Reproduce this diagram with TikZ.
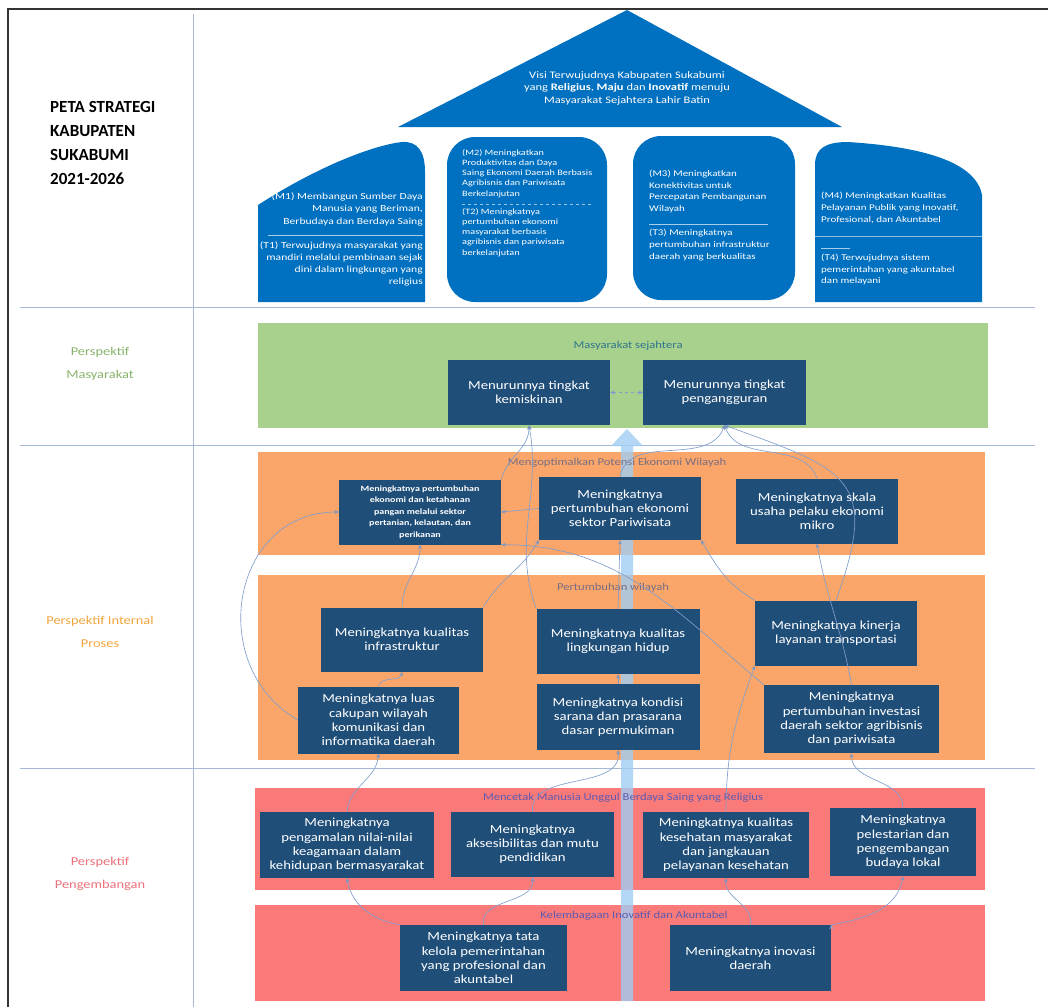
\documentclass[tikz,border=0pt]{standalone}
\usepackage{fontspec}
\setmainfont{Carlito}
\newfontfamily\boxfont[FakeStretch=1.2]{Carlito}
\newfontfamily\pillarfont[FakeStretch=1.25]{Carlito}
\usepackage{tikz}
\usetikzlibrary{arrows.meta}

\definecolor{roofblue}{RGB}{0,112,192}
\definecolor{boxblue}{RGB}{31,78,121}
\definecolor{grpgreen}{RGB}{169,209,142}
\definecolor{grporange}{RGB}{250,166,106}
\definecolor{grppink}{RGB}{250,122,122}
\definecolor{linkblue}{RGB}{128,158,205}
\definecolor{bigarrow}{RGB}{160,205,242}
\definecolor{sepline}{RGB}{165,185,215}
\definecolor{lblgreen}{RGB}{46,117,140}
\definecolor{lblorange}{RGB}{120,110,130}
\definecolor{lblpink}{RGB}{95,90,175}
\definecolor{perspgreen}{RGB}{135,178,105}
\definecolor{persporange}{RGB}{242,165,60}
\definecolor{persppink}{RGB}{236,112,122}

\begin{document}
\begin{tikzpicture}[x=1pt,y=1pt]
	\tikzset{goal/.style 2 args={fill=boxblue,text=white,align=center,inner sep=1pt,
		minimum width=#1pt,minimum height=#2pt,font=\boxfont\fontsize{12.3}{14.2}\selectfont}}
	\tikzstyle{link}=[draw=linkblue,line width=0.65pt,-{Stealth[length=4.5pt,width=4pt]}]
	\tikzstyle{grouplabel}=[inner sep=0pt,font=\boxfont\fontsize{10.5}{12}\selectfont]
	\tikzstyle{pillartext}=[text=white,inner sep=0pt]
	\tikzstyle{persp}=[align=center,inner sep=0pt,font=\boxfont\fontsize{12}{23}\selectfont]

	\useasboundingbox (0,0) rectangle (1048,-1007);

	%% frame and grid
	\draw[line width=2pt,black!80] (8,-1007) -- (8,-9) -- (1048,-9);
	\draw[sepline,line width=0.8pt] (193,-14) -- (193,-1007);
	\foreach \y in {307,445,768}
		\draw[sepline,line width=0.8pt] (20,-\y) -- (1035,-\y);

	%% title and perspectives
	\node[anchor=north west,align=left,inner sep=0pt,font=\bfseries\fontsize{17}{24}\selectfont] (title) at (50,-101)
		{PETA STRATEGI\\KABUPATEN\\SUKABUMI\\2021-2026};
	\node[persp,text=perspgreen] (pmasy) at (100,-364) {Perspektif\\Masyarakat};
	\node[persp,text=persporange] (pproses) at (100,-632) {Perspektif Internal\\Proses};
	\node[persp,text=persppink] (pkembang) at (100,-874) {Perspektif\\Pengembangan};

	%% roof
	\fill[roofblue] (627,-10) -- (842,-127) -- (398,-127) -- cycle;
	\node[pillartext,align=center,font=\pillarfont\fontsize{10}{12.5}\selectfont] (visi) at (627,-88)
		{Visi Terwujudnya Kabupaten Sukabumi\\yang \textbf{Religius}, \textbf{Maju} dan \textbf{Inovatif} menuju\\Masyarakat Sejahtera Lahir Batin};

	%% pillars
	\fill[roofblue] (258,-302) -- (258,-205) .. controls (320,-165) and (375,-145) .. (402,-142)
		.. controls (418,-141) and (425,-152) .. (425,-172) -- (425,-302) -- cycle;
	\fill[roofblue,rounded corners=28pt] (447,-137) rectangle (607,-302);
	\fill[roofblue,rounded corners=28pt] (633,-136) rectangle (795,-300);
	\fill[roofblue] (815,-302) -- (815,-165) .. controls (815,-148) and (826,-142) .. (848,-142)
		.. controls (910,-146) and (975,-158) .. (982,-195) -- (982,-302) -- cycle;

	\node[pillartext,anchor=north east,align=right,font=\pillarfont\fontsize{9.3}{12.5}\selectfont] (m1) at (423,-192)
		{(M1) Membangun Sumber Daya\\Manusia yang Beriman,\\Berbudaya dan Berdaya Saing};
	\draw[white!65!roofblue,line width=0.6pt] (268,-235) -- (423,-235);
	\node[pillartext,anchor=north east,align=right,font=\pillarfont\fontsize{9.3}{12}\selectfont] (t1) at (423,-241)
		{(T1) Terwujudnya masyarakat yang\\mandiri melalui pembinaan sejak\\dini dalam lingkungan yang\\religius};

	\node[pillartext,anchor=north west,align=left,font=\pillarfont\fontsize{8.2}{10.2}\selectfont] (m2) at (462,-149)
		{(M2) Meningkatkan\\Produktivitas dan Daya\\Saing Ekonomi Daerah Berbasis\\Agribisnis dan Pariwisata\\Berkelanjutan};
	\draw[white!60!roofblue,dashed,line width=0.6pt] (462,-204) -- (592,-204);
	\node[pillartext,anchor=north west,align=left,font=\pillarfont\fontsize{8.2}{10.2}\selectfont] (t2) at (462,-208)
		{(T2) Meningkatnya\\pertumbuhan ekonomi\\masyarakat berbasis\\agribisnis dan pariwisata\\berkelanjutan};

	\node[pillartext,anchor=north west,align=left,font=\pillarfont\fontsize{8.8}{11.5}\selectfont] (m3) at (649,-170)
		{(M3) Meningkatkan\\Konektivitas untuk\\Percepatan Pembangunan\\Wilayah};
	\draw[white!65!roofblue,line width=0.6pt] (649,-224) -- (768,-224);
	\node[pillartext,anchor=north west,align=left,font=\pillarfont\fontsize{8.8}{12}\selectfont] (t3) at (649,-229)
		{(T3) Meningkatnya\\pertumbuhan infrastruktur\\daerah yang berkualitas};

	\node[pillartext,anchor=north west,align=left,font=\pillarfont\fontsize{8.8}{12}\selectfont] (m4) at (821,-192)
		{(M4) Meningkatkan Kualitas\\Pelayanan Publik yang Inovatif,\\Profesional, dan Akuntabel};
	\draw[white!55!roofblue,line width=0.8pt] (815,-236) -- (982,-236);
	\draw[white!65!roofblue,line width=0.6pt] (821,-248) -- (850,-248);
	\node[pillartext,anchor=north west,align=left,font=\pillarfont\fontsize{8.8}{11.5}\selectfont] (t4) at (821,-254)
		{(T4) Terwujudnya sistem\\pemerintahan yang akuntabel\\dan melayani};

	%% group bands
	\fill[grpgreen] (258,-323) rectangle (988,-428);
	\fill[grporange] (258,-452) rectangle (985,-555);
	\fill[grporange] (258,-575) rectangle (985,-760);
	\fill[grppink] (255,-788) rectangle (985,-890);
	\fill[grppink] (255,-905) rectangle (985,-1001);

	%% big arrow up the middle, behind the goals
	\fill[bigarrow,opacity=0.8] (621,-1001) -- (621,-446) -- (611,-446) -- (627,-429)
		-- (643,-446) -- (633,-446) -- (633,-1001) -- cycle;

	\node[grouplabel,text=lblgreen] (gmasy) at (628,-346) {Masyarakat sejahtera};
	\node[grouplabel,text=lblorange] (gekonomi) at (617,-463) {Mengoptimalkan Potensi Ekonomi Wilayah};
	\node[grouplabel,text=lblorange] (gwilayah) at (613,-588) {Pertumbuhan wilayah};
	\node[grouplabel,text=lblpink] (gmanusia) at (623,-798) {Mencetak Manusia Unggul Berdaya Saing yang Religius};
	\node[grouplabel,text=lblpink] (glembaga) at (634,-916) {Kelembagaan Inovatif dan Akuntabel};

	%% goals
	\node[goal={162}{65}] (kemiskinan) at (529,-392.5) {Menurunnya tingkat\\kemiskinan};
	\node[goal={163}{65}] (pengangguran) at (724.5,-392.5) {Menurunnya tingkat\\pengangguran};

	\node[goal={162}{65},font=\pillarfont\bfseries\fontsize{8}{11.5}\selectfont] (pangan) at (420,-512)
		{Meningkatnya pertumbuhan\\ekonomi dan ketahanan\\pangan melalui sektor\\pertanian, kelautan, dan\\perikanan};
	\node[goal={162}{63}] (pariwisata) at (620,-508.5) {Meningkatnya\\pertumbuhan ekonomi\\sektor Pariwisata};
	\node[goal={162}{65}] (mikro) at (817,-511) {Meningkatnya skala\\usaha pelaku ekonomi\\mikro};

	\node[goal={162}{64}] (infra) at (402,-639.5) {Meningkatnya kualitas\\infrastruktur};
	\node[goal={163}{65}] (lingkungan) at (618,-641.5) {Meningkatnya kualitas\\lingkungan hidup};
	\node[goal={162}{65}] (transportasi) at (836,-633) {Meningkatnya kinerja\\layanan transportasi};
	\node[goal={161}{67}] (kominfo) at (378.5,-720) {Meningkatnya luas\\cakupan wilayah\\komunikasi dan\\informatika daerah};
	\node[goal={163}{66}] (permukiman) at (618,-717) {Meningkatnya kondisi\\sarana dan prasarana\\dasar permukiman};
	\node[goal={175}{68}] (investasi) at (851.5,-719) {Meningkatnya\\pertumbuhan investasi\\daerah sektor agribisnis\\dan pariwisata};

	\node[goal={174}{66}] (agama) at (347,-845) {Meningkatnya\\pengamalan nilai-nilai\\keagamaan dalam\\kehidupan bermasyarakat};
	\node[goal={163}{65}] (pendidikan) at (532.5,-844.5) {Meningkatnya\\aksesibilitas dan mutu\\pendidikan};
	\node[goal={166}{66}] (kesehatan) at (726,-845) {Meningkatnya kualitas\\kesehatan masyarakat\\dan jangkauan\\pelayanan kesehatan};
	\node[goal={146}{68}] (budaya) at (903,-842) {Meningkatnya\\pelestarian dan\\pengembangan\\budaya lokal};

	\node[goal={167}{66}] (tatakelola) at (483.5,-958) {Meningkatnya tata\\kelola pemerintahan\\yang profesional dan\\akuntabel};
	\node[goal={161}{66}] (inovasi) at (750.5,-958) {Meningkatnya inovasi\\daerah};

	%% cause-effect links
	\draw[linkblue,dashed,line width=0.65pt,{Stealth[length=4.5pt,width=4pt]}-{Stealth[length=4.5pt,width=4pt]}]
		(kemiskinan) -- (pengangguran);
	\path[link]
		(pangan.north east) edge[out=75,in=270] (kemiskinan.south)
		(pariwisata.north) edge[out=80,in=250] (pengangguran.south)
		(mikro.north) edge[out=110,in=290] (pengangguran.south)
		(transportasi.north) edge[out=70,in=-20,looseness=1.6] (pengangguran.south)
		(lingkungan.north west) edge[out=110,in=-80] (kemiskinan.south)
		(infra.north) edge[out=90,in=270] (pangan.south)
		(infra.north east) edge[out=60,in=-120] (pariwisata.south west)
		(lingkungan.north) edge (pariwisata.south)
		(transportasi.north west) edge[out=150,in=-60] (pariwisata.south east)
		(investasi.north) edge[out=100,in=-80] (mikro.south)
		(investasi.north west) edge[out=140,in=0] (pangan.south east)
		(pariwisata.west) edge (pangan.east)
		(kominfo.west) edge[out=150,in=180,looseness=1.3] (pangan.west)
		(kominfo.north) edge[out=80,in=-100] (infra.south)
		(permukiman.north) edge (lingkungan.south)
		(agama.north) edge[out=85,in=-95] (kominfo.south)
		(pendidikan.north) edge[out=95,in=-85] (permukiman.south)
		(kesehatan.north) edge[out=90,in=-110] (transportasi.south west)
		(budaya.north) edge[out=90,in=-90] (investasi.south)
		(tatakelola.north west) edge[out=170,in=-80] (agama.south)
		(tatakelola.north) edge[out=100,in=-85] (pendidikan.south)
		(inovasi.north) edge[out=80,in=-95] (kesehatan.south)
		(inovasi.north east) edge[out=10,in=-100] (budaya.south);
\end{tikzpicture}
\end{document}
